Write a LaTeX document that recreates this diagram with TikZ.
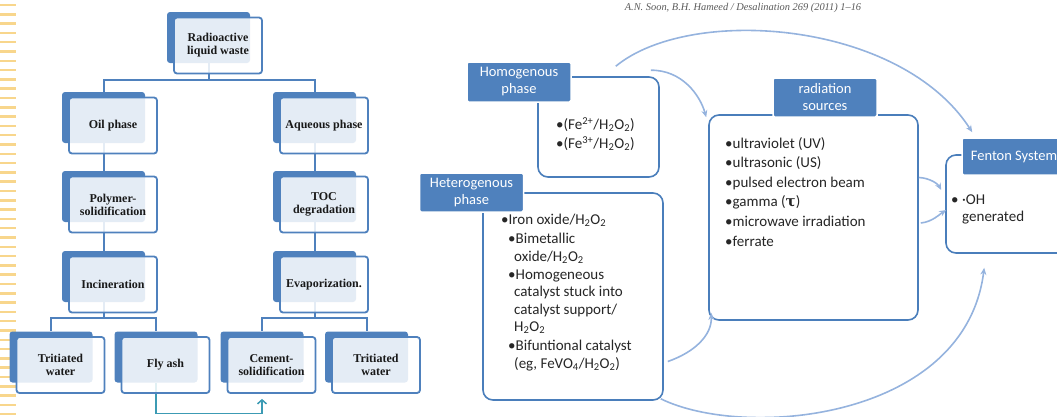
\documentclass[tikz,border=0pt]{standalone}
\usepackage{fontspec}
\setmainfont{Carlito}
\newfontfamily\treefont{Liberation Serif}
\newfontfamily\symfont{DejaVu Serif}
\usetikzlibrary{calc,backgrounds,arrows.meta}
\definecolor{boxblue}{RGB}{79,129,189}
\definecolor{lineblue}{RGB}{74,126,187}
\definecolor{arrowblue}{RGB}{149,179,222}
\definecolor{ashteal}{RGB}{60,155,180}
\definecolor{stripeyellow}{RGB}{248,214,140}

\begin{document}
\begin{tikzpicture}[x=1pt,y=-1pt,
  back/.style={fill=boxblue,rounded corners=3pt,minimum width=83pt,minimum height=51pt,inner sep=0pt},
  front/.style={draw=boxblue,line width=1.8pt,fill=white,fill opacity=0.85,text opacity=1,
    rounded corners=3pt,minimum width=88pt,minimum height=56pt,inner sep=1pt,align=center,
    text=black!90,font=\treefont\bfseries\fontsize{12}{13}\selectfont},
  tie/.style={draw=boxblue,line width=2pt},
  ash/.style={draw=ashteal,line width=1.5pt,-{Straight Barb[length=4pt,width=9pt]}},
  panel/.style={draw=lineblue,line width=1.6pt,fill=white,rounded corners=10pt,inner sep=0pt},
  tag/.style={fill=boxblue,draw=white,line width=1.5pt,rounded corners=1.5pt,text=white,
    align=center,inner sep=0pt,minimum width=104pt,font=\fontsize{14.5}{17}\selectfont},
  items/.style={anchor=north west,align=left,inner sep=0pt,text=black!85},
  flow/.style={draw=arrowblue,line width=1.6pt,-{Stealth[length=7pt,width=6pt]}},
  stripe/.style={draw=stripeyellow,line width=2.5pt}]

  \useasboundingbox (0,0) rectangle (1057,416);
  \clip (0,0) rectangle (1057,416);

  % margin stripes
  \foreach \i in {0,...,44}
    \draw[stripe] (0,{5+9.3*\i}) -- (15.5,{5+9.3*\i});

  % waste tree
  \node[back] (radb) at (208.5,37.5) {};
  \node[front] (rad) at (218,45.5) {Radioactive\\liquid waste};
  \node[back] (oilb) at (103.5,117.5) {};
  \node[front] (oil) at (113,125.5) {Oil phase};
  \node[back] (aqb) at (314.5,117.5) {};
  \node[front] (aq) at (324,125.5) {Aqueous phase};
  \node[back] (polyb) at (103.5,196.5) {};
  \node[front] (poly) at (113,204.5) {Polymer-\\solidification};
  \node[back] (tocb) at (314.5,196.5) {};
  \node[front] (toc) at (324,204.5) {TOC\\degradation};
  \node[back] (incb) at (103.5,276.5) {};
  \node[front] (inc) at (113,284.5) {Incineration};
  \node[back] (evapb) at (314.5,276.5) {};
  \node[front] (evap) at (324,284.5) {Evaporization.};
  \node[back] (twab) at (51,357) {};
  \node[front] (twa) at (60.5,365) {Tritiated\\water};
  \node[back] (flyb) at (156,357) {};
  \node[front] (fly) at (165.5,365) {Fly ash};
  \node[back] (cemb) at (262,357) {};
  \node[front] (cem) at (271.5,365) {Cement-\\solidification};
  \node[back] (twbb) at (366.5,357) {};
  \node[front] (twb) at (376,365) {Tritiated\\water};

  \begin{scope}[on background layer]
    \draw[tie] (radb.south) |- ($(oilb.north)+(0,-12)$) -- (oilb.north);
    \draw[tie] (radb.south) |- ($(aqb.north)+(0,-12)$) -- (aqb.north);
    \draw[tie] (oilb.south) -- (polyb.north);
    \draw[tie] (polyb.south) -- (incb.north);
    \draw[tie] (aqb.south) -- (tocb.north);
    \draw[tie] (tocb.south) -- (evapb.north);
    \draw[tie] (incb.south) |- ($(twab.north)+(0,-13)$) -- (twab.north);
    \draw[tie] (incb.south) |- ($(flyb.north)+(0,-13)$) -- (flyb.north);
    \draw[tie] (evapb.south) |- ($(cemb.north)+(0,-13)$) -- (cemb.north);
    \draw[tie] (evapb.south) |- ($(twbb.north)+(0,-13)$) -- (twbb.north);
    \draw[ash] (flyb.south) -- ++(0,31) -| ($(cemb.south |- cem.south)+(0,5)$);
  \end{scope}

  % Fenton scheme
  \node[font=\treefont\itshape\fontsize{10.4}{12}\selectfont,text=black!65] (cite) at (743,8)
    {A.N. Soon, B.H. Hameed / Desalination 269 (2011) 1–16};

  \node[panel,minimum width=121pt,minimum height=100pt] (homcont) at (598.5,127) {};
  \node[tag,minimum height=40pt] (homlab) at (519,82) {Homogenous\\phase};
  \node[items,font=\fontsize{15}{19}\selectfont] (homlist) at (556,117)
    {•(Fe\textsuperscript{2+}/H\textsubscript{2}O\textsubscript{2})\\
     •(Fe\textsuperscript{3+}/H\textsubscript{2}O\textsubscript{2})};

  \node[panel,minimum width=180pt,minimum height=207pt] (hetcont) at (573,296.5) {};
  \node[tag,minimum height=39pt] (hetlab) at (471.5,192.5) {Heterogenous\\phase};
  \node[items,font=\fontsize{15}{17.3}\selectfont] (hetlist) at (501,214)
    {•Iron oxide/H\textsubscript{2}O\textsubscript{2}\\[2pt]
     \hspace*{7pt}•Bimetallic\\
     \hspace*{13pt}oxide/H\textsubscript{2}O\textsubscript{2}\\[1pt]
     \hspace*{7pt}•Homogeneous\\
     \hspace*{13pt}catalyst stuck into\\
     \hspace*{13pt}catalyst support/\\
     \hspace*{13pt}H\textsubscript{2}O\textsubscript{2}\\[2pt]
     \hspace*{7pt}•Bifuntional catalyst\\
     \hspace*{13pt}(eg, FeVO\textsubscript{4}/H\textsubscript{2}O\textsubscript{2})};

  \node[panel,minimum width=209pt,minimum height=205pt] (radcont) at (813.5,217.5) {};
  \node[tag,minimum height=39pt] (radlab) at (825,97.5) {radiation\\sources};
  \node[items,font=\fontsize{15}{19.6}\selectfont] (radlist) at (725,137)
    {•ultraviolet (UV)\\
     •ultrasonic (US)\\
     •pulsed electron beam\\
     •gamma ({\symfont\bfseries τ})\\
     •microwave irradiation\\
     •ferrate};

  \node[panel,minimum width=128pt,minimum height=98pt] (fencont) at (1010,204) {};
  \node[tag,minimum height=37pt] (fenlab) at (1014,156.5) {Fenton System};
  \node[items,font=\fontsize{15}{17}\selectfont] (fenlist) at (951,195)
    {• ·OH\\ \hspace*{11pt}generated};

  \draw[flow] ($(homlab.north east)+(44,5)$) .. controls (690,5) and (900,20) ..
    ($(fenlab.north west)+(11,-5)$);
  \draw[flow] ($(homcont.north east)+(-9,-6)$) .. controls (682,70) and (700,95) ..
    ($(radcont.north west)+(-2,3)$);
  \draw[flow] ($(hetcont.east)+(4,65)$) .. controls (695,352) and (712,335) ..
    ($(radcont.south west)+(3,-8)$);
  \draw[flow] ($(hetcont.south east)+(-3,-2)$) .. controls (745,440) and (965,420) ..
    ($(fencont.south west)+(39,14)$);
  \draw[flow] ($(radcont.east)+(0,-40)$) .. controls (930,178) and (938,184) ..
    ($(fencont.west)+(-4,-14)$);
  \draw[flow] ($(radcont.east)+(2,5.5)$) .. controls (932,222) and (940,214) ..
    ($(fencont.west)+(1,6)$);
\end{tikzpicture}
\end{document}
